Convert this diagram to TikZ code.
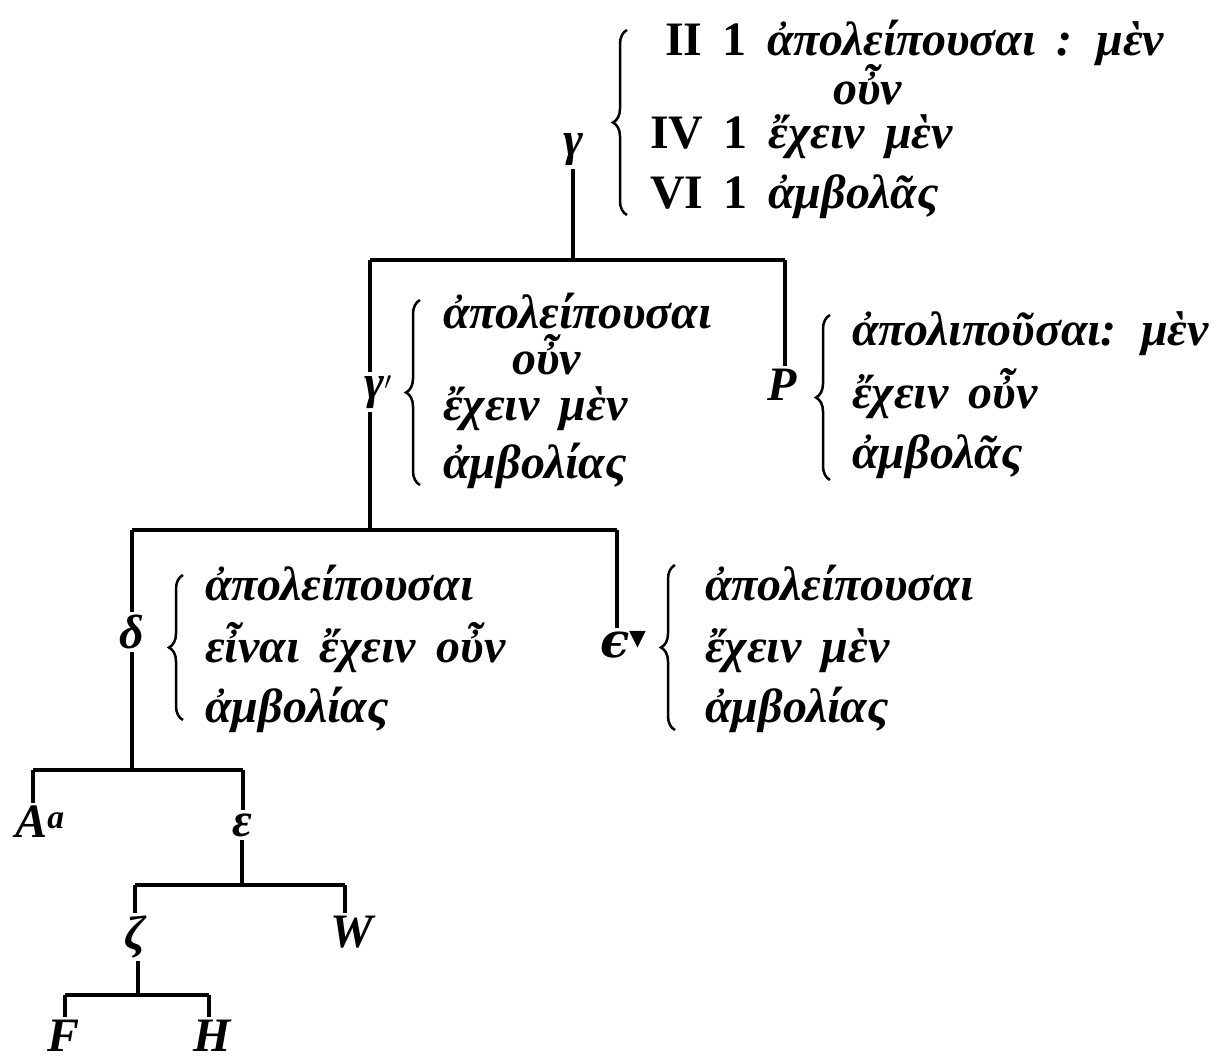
\documentclass[tikz,border=0pt]{standalone}
\usepackage{fontspec}
\setmainfont[WordSpace=1.7]{Liberation Serif}
\newfontfamily\dvserif{DejaVu Serif}
\newfontfamily\dvsans{DejaVu Sans}
\usetikzlibrary{decorations.pathreplacing}
\begin{document}
\begin{tikzpicture}[x=1pt,y=1pt,
  txt/.style={font=\fontsize{48}{56}\selectfont\bfseries\itshape, anchor=base west, inner sep=0pt},
  lab/.style={font=\fontsize{48}{56}\selectfont\bfseries\itshape, inner sep=3pt},
  bar/.style={line width=4pt},
  brc/.style={decorate, decoration={brace, amplitude=14pt}, line width=2.5pt}]
\useasboundingbox (0,0) rectangle (1213,-1063);

% gamma block
\node[txt] (g1) at (665,-55) {\upshape II 1 \itshape ἀπολείπουσαι : μὲν};
\node[txt] (g2) at (833,-104) {οὖν};
\node[txt] (g3) at (650,-148) {\upshape IV 1 \itshape ἔχειν μὲν};
\node[txt] (g4) at (650,-208) {\upshape VI 1 \itshape ἀμβολᾶς};
\draw[brc] (627,-215) -- (627,-30);

% gamma' block
\node[txt] (a1) at (443,-328) {ἀπολείπουσαι};
\node[txt] (a2) at (512,-374) {οὖν};
\node[txt] (a3) at (443,-420) {ἔχειν μὲν};
\node[txt] (a4) at (443,-478) {ἀμβολίας};
\draw[brc] (420,-485) -- (420,-300);

% P block
\node[txt] (p1) at (852,-345) {ἀπολιποῦσαι: μὲν};
\node[txt] (p2) at (852,-408) {ἔχειν οὖν};
\node[txt] (p3) at (852,-468) {ἀμβολᾶς};
\draw[brc] (830,-480) -- (830,-315);

% delta block
\node[txt] (d1) at (205,-600) {ἀπολείπουσαι};
\node[txt] (d2) at (205,-662) {εἶναι ἔχειν οὖν};
\node[txt] (d3) at (205,-722) {ἀμβολίας};
\draw[brc] (183,-720) -- (183,-575);

% epsilon' block
\node[txt] (e1) at (705,-600) {ἀπολείπουσαι};
\node[txt] (e2) at (705,-662) {ἔχειν μὲν};
\node[txt] (e3) at (705,-722) {ἀμβολίας};
\draw[brc] (675,-730) -- (675,-565);

% labels
\node[lab] (gam) at (573,-150) {γ};
\node[lab] (gamp) at (378,-392) {γ$'$};
\node[lab] (P) at (782,-385) {P};
\node[lab] (del) at (132,-632) {δ};
\node[lab] (epsv) at (624,-645) {{\dvserif ϵ}\textsuperscript{\dvsans ▾}};
\node[lab] (A) at (40,-822) {A\textsuperscript{a}};
\node[lab] (eps) at (242,-825) {ε};
\node[lab] (zeta) at (135,-937) {ζ};
\node[lab] (W) at (352,-932) {W};
\node[lab] (F) at (64,-1036) {F};
\node[lab] (H) at (212,-1036) {H};

% tree
\coordinate (b1l) at (370,-260); \coordinate (b1m) at (573,-260); \coordinate (b1r) at (785,-260);
\coordinate (b2l) at (132,-530); \coordinate (b2m) at (370,-530); \coordinate (b2r) at (617,-530);
\coordinate (b3l) at (33,-770); \coordinate (b3m) at (132,-770); \coordinate (b3r) at (243,-770);
\coordinate (b4l) at (135,-885); \coordinate (b4m) at (242,-885); \coordinate (b4r) at (345,-885);
\coordinate (b5l) at (65,-995); \coordinate (b5m) at (138,-995); \coordinate (b5r) at (209,-995);

\draw[bar] (gam.south -| b1m) -- (b1m);
\draw[bar] (b1l) -- (b1r);
\draw[bar] (b1l) -- (b1l |- gamp.north);
\draw[bar] (b1r) -- (b1r |- P.north);
\draw[bar] (b2m |- gamp.south) -- (b2m);
\draw[bar] (b2l) -- (b2r);
\draw[bar] (b2l) -- (b2l |- del.north);
\draw[bar] (b2r) -- (b2r |- epsv.north);
\draw[bar] (b3m |- del.south) -- (b3m);
\draw[bar] (b3l) -- (b3r);
\draw[bar] (b3l) -- (b3l |- A.north);
\draw[bar] (b3r) -- (b3r |- eps.north);
\draw[bar] (b4m |- eps.south) -- (b4m);
\draw[bar] (b4l) -- (b4r);
\draw[bar] (b4l) -- (b4l |- zeta.north);
\draw[bar] (b4r) -- (b4r |- W.north);
\draw[bar] (b5m |- zeta.south) -- (b5m);
\draw[bar] (b5l) -- (b5r);
\draw[bar] (b5l) -- (b5l |- F.north);
\draw[bar] (b5r) -- (b5r |- H.north);
\end{tikzpicture}
\end{document}
